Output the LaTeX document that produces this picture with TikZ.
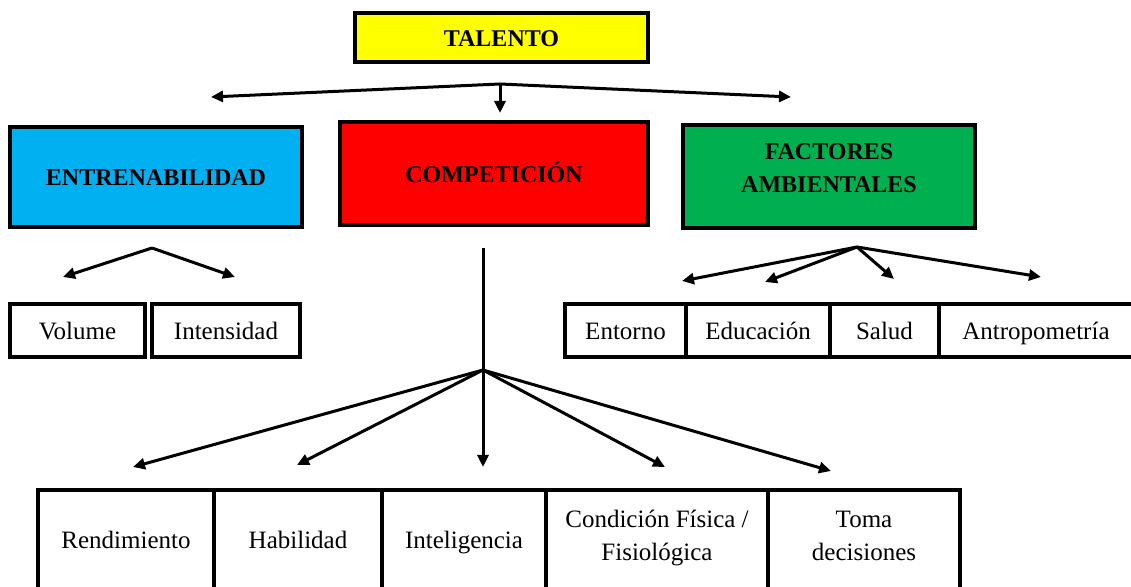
\documentclass[tikz,border=0pt]{standalone}
\usepackage{fontspec}
\setmainfont{Liberation Serif}
\usetikzlibrary{arrows.meta}

\definecolor{amarillo}{RGB}{255,255,0}
\definecolor{celeste}{RGB}{0,176,240}
\definecolor{rojo}{RGB}{255,0,0}
\definecolor{verde}{RGB}{0,176,80}

\tikzstyle{mainbox} = [draw=black, line width=2pt, rectangle, inner sep=2pt,
    align=center, font=\fontsize{12}{16.5}\selectfont\bfseries]
\tikzstyle{itembox} = [draw=black, line width=2pt, rectangle, inner sep=2pt,
    align=center, font=\fontsize{12.5}{16.5}\selectfont]
\tikzstyle{unalinea} = [text height=10pt, text depth=1pt]
\tikzstyle{rama} = [line width=1.5pt, -{Triangle[length=6pt,width=5.5pt]}]
\tikzstyle{tronco} = [line width=1.5pt]

\begin{document}
\begin{tikzpicture}[x=0.5pt, y=-0.5pt]
\useasboundingbox (0,0) rectangle (1131,587);
\clip (0,0) rectangle (1131,587);

% cabecera
\node [mainbox, unalinea, fill=amarillo, minimum width=146.5pt, minimum height=24.5pt] (talento) at (501.5,37.5) {TALENTO};

\node [mainbox, unalinea, fill=celeste, minimum width=146pt, minimum height=50pt] (entre) at (156,177) {ENTRENABILIDAD};
\node [mainbox, unalinea, fill=rojo, minimum width=154pt, minimum height=51.5pt] (comp) at (494,173.5) {COMPETICIÓN};
\node [mainbox, fill=verde, minimum width=146pt, minimum height=51.5pt] (fact) at (829,176.5) {FACTORES\\AMBIENTALES\\[-8.5pt]\mbox{}};

% entrenabilidad
\node [itembox, unalinea, minimum width=67.5pt, minimum height=26.5pt] (volume) at (77.5,330.5) {Volume};
\node [itembox, unalinea, minimum width=74pt, minimum height=26.5pt] (intens) at (226,330.5) {Intensidad};

% factores ambientales
\node [itembox, unalinea, minimum width=60.5pt, minimum height=26.5pt] (entorno) at (625.5,330.5) {Entorno};
\node [itembox, unalinea, minimum width=72pt, minimum height=26.5pt] (educ) at (758,330.5) {Educación};
\node [itembox, unalinea, minimum width=54.5pt, minimum height=26.5pt] (salud) at (884.5,330.5) {Salud};
\node [itembox, unalinea, minimum width=97pt, minimum height=26.5pt] (antro) at (1036,330.5) {Antropometría};

% competicion
\node [itembox, unalinea, minimum width=88pt, minimum height=50pt] (rend) at (126,540) {Rendimiento};
\node [itembox, unalinea, minimum width=84pt, minimum height=50pt] (habil) at (298,540) {Habilidad};
\node [itembox, unalinea, minimum width=82pt, minimum height=50pt] (intel) at (464,540) {Inteligencia};
\node [itembox, minimum width=111pt, minimum height=50pt] (cond) at (657,540) {Condición Física /\\Fisiológica\\[-12pt]\mbox{}};
\node [itembox, minimum width=96pt, minimum height=50pt] (toma) at (864,540) {Toma\\decisiones\\[-12pt]\mbox{}};

% puntos de las flechas
\coordinate (tj) at (500,84);
\coordinate (t1) at (211,97);
\coordinate (t2) at (500,113);
\coordinate (t3) at (791,97);

\coordinate (ej) at (152,248);
\coordinate (e1) at (63,277);
\coordinate (e2) at (235,277);

\coordinate (fj) at (857,247);
\coordinate (f1) at (682,281);
\coordinate (f2) at (765,282);
\coordinate (f3) at (894,279);
\coordinate (f4) at (1041,277);

\coordinate (ctop) at (483,248);
\coordinate (cj) at (483,370);
\coordinate (c1) at (133,467);
\coordinate (c2) at (297,465);
\coordinate (c3) at (483,467);
\coordinate (c4) at (665,467);
\coordinate (c5) at (831,471);

\foreach \t in {t1,t2,t3} \draw [rama] (tj) -- (\t);
\foreach \t in {e1,e2} \draw [rama] (ej) -- (\t);
\foreach \t in {f1,f2,f3,f4} \draw [rama] (fj) -- (\t);
\draw [tronco] (ctop) -- (cj);
\foreach \t in {c1,c2,c3,c4,c5} \draw [rama] (cj) -- (\t);
\end{tikzpicture}
\end{document}
